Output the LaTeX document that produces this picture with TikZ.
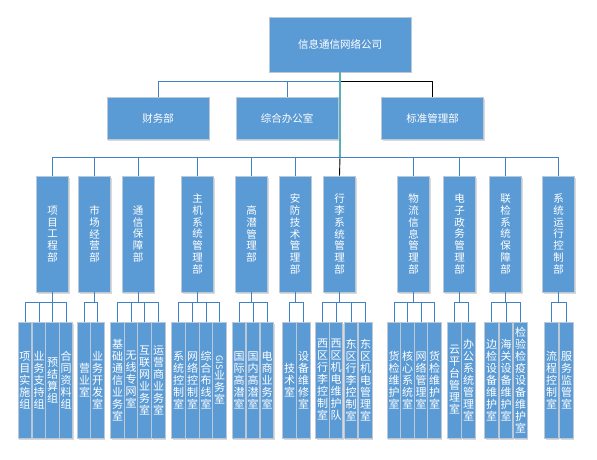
\documentclass[tikz,border=0pt]{standalone}
\usepackage{fontspec}
\usepackage{graphicx}
\newfontfamily\cjk{Noto Sans CJK SC}
\usetikzlibrary{shadows}
\definecolor{boxblue}{HTML}{5B9BD5}
\definecolor{boxedge}{HTML}{BCC8D6}
\definecolor{connblue}{HTML}{3F82C6}
\definecolor{trunkteal}{HTML}{5AAFB8}
\begin{document}
\begin{tikzpicture}[x=1pt,y=-1pt,
  box/.style={fill=boxblue, draw=boxedge, line width=0.9pt, text=white, inner sep=0pt, align=center,
    drop shadow={shadow xshift=1pt, shadow yshift=-1.5pt, opacity=0.15, fill=black}},
  l1/.style={box, minimum width=142pt, minimum height=55pt, font=\cjk\fontsize{10.5}{12}\selectfont},
  l2/.style={box, minimum width=102pt, minimum height=42pt, font=\cjk\fontsize{10.5}{12}\selectfont},
  l3/.style={box, minimum width=32pt, minimum height=116pt, font=\cjk\fontsize{10.5}{11.7}\selectfont},
  l4/.style={box, minimum width=13.5pt, minimum height=116pt, font=\cjk\fontsize{11}{12}\selectfont},
  conn/.style={draw=connblue, line width=0.9pt},
  connk/.style={draw=black, line width=0.9pt},
  trunk/.style={draw=trunkteal, line width=1.2pt}]
\useasboundingbox (0,0) rectangle (597,460);

% level 1 and 2
\node[l1] (top) at (340,44.5) {信息通信网络公司};
\node[l2] (cw) at (158,118) {财务部};
\node[l2] (zh) at (287,118) {综合办公室};
\node[l2] (bz) at (432.5,118) {标准管理部};

% level 3
\node[l3] (p1) at (52.5,234) {项\\目\\工\\程\\部};
\node[l3] (p2) at (94.5,234) {市\\场\\经\\营\\部};
\node[l3] (p3) at (138,234) {通\\信\\保\\障\\部};
\node[l3] (p4) at (197.5,234) {主\\机\\系\\统\\管\\理\\部};
\node[l3] (p5) at (251.5,234) {高\\潜\\管\\理\\部};
\node[l3] (p6) at (295,234) {安\\防\\技\\术\\管\\理\\部};
\node[l3] (p7) at (339.5,234) {行\\李\\系\\统\\管\\理\\部};
\node[l3] (p8) at (413.5,234) {物\\流\\信\\息\\管\\理\\部};
\node[l3] (p9) at (459.5,234) {电\\子\\政\\务\\管\\理\\部};
\node[l3] (p10) at (505.5,234) {联\\检\\系\\统\\保\\障\\部};
\node[l3] (p11) at (558.5,234) {系\\统\\运\\行\\控\\制\\部};

% level 4
\node[l4] (c1a) at (25,380) {项\\目\\实\\施\\组};
\node[l4] (c1b) at (39,380) {业\\务\\支\\持\\组};
\node[l4] (c1c) at (52.5,380) {预\\结\\算\\组};
\node[l4] (c1d) at (66,380) {合\\同\\资\\料\\组};
\node[l4] (c2a) at (84.5,380) {营\\业\\室};
\node[l4] (c2b) at (97.5,380) {业\\务\\开\\发\\室};
\node[l4] (c3a) at (117.5,380) {基\\础\\通\\信\\业\\务\\室};
\node[l4] (c3b) at (131,380) {无\\线\\专\\网\\室};
\node[l4] (c3c) at (144.5,380) {互\\联\\网\\业\\务\\室};
\node[l4] (c3d) at (158.5,380) {运\\营\\商\\业\\务\\室};
\node[l4] (c4a) at (178.5,380) {系\\统\\控\\制\\室};
\node[l4] (c4b) at (192.5,380) {网\\络\\控\\制\\室};
\node[l4] (c4c) at (206,380) {综\\合\\布\\线\\室};
\node[l4] (c4d) at (219.5,380) {\rotatebox{-90}{\fontsize{9}{9}\selectfont GIS}\\业\\务\\室};
\node[l4] (c5a) at (239,380) {国\\际\\高\\潜\\室};
\node[l4] (c5b) at (253,380) {国\\内\\高\\潜\\室};
\node[l4] (c5c) at (267,380) {电\\商\\业\\务\\室};
\node[l4] (c6a) at (289.5,380) {技\\术\\室};
\node[l4] (c6b) at (303.5,380) {设\\备\\维\\修\\室};
\node[l4] (c7a) at (322.5,380) {西\\区\\行\\李\\控\\制\\室};
\node[l4] (c7b) at (336,380) {西\\区\\机\\电\\维\\护\\队};
\node[l4] (c7c) at (351,380) {东\\区\\行\\李\\控\\制\\室};
\node[l4] (c7d) at (365.5,380) {东\\区\\机\\电\\管\\理\\室};
\node[l4] (c8a) at (394,380) {货\\检\\维\\护\\室};
\node[l4] (c8b) at (407.5,380) {核\\心\\系\\统\\室};
\node[l4] (c8c) at (421,380) {网\\络\\管\\理\\室};
\node[l4] (c8d) at (434.5,380) {货\\检\\维\\护\\室};
\node[l4] (c9a) at (454.5,380) {云\\平\\台\\管\\理\\室};
\node[l4] (c9b) at (468.5,380) {办\\公\\系\\统\\管\\理\\室};
\node[l4] (c10a) at (491.5,380) {边\\检\\设\\备\\维\\护\\室};
\node[l4] (c10b) at (506,380) {海\\关\\设\\备\\维\\护\\室};
\node[l4] (c10c) at (520.5,380) {检\\验\\检\\疫\\设\\备\\维\\护\\室};
\node[l4] (c11a) at (551.5,380) {流\\程\\控\\制\\室};
\node[l4] (c11b) at (566.5,380) {服\\务\\监\\管\\室};

% bus coordinates
\coordinate (b1) at (340,81);
\coordinate (b3) at (340,157);
\coordinate (h4) at (0,302);

% level 1 -> 2
\draw[conn] (cw.north) |- (b1);
\draw[conn] (zh.north) -- (zh.north |- b1);
\draw[connk] (bz.north) |- (b1);

% trunk
\draw[trunk] (top.south) -- (b3);
\draw[connk] (b3) -- (p7.north);

% level 3 bus
\foreach \p in {p1,p2,p3,p4,p5,p6,p8,p9,p10,p11}{
  \draw[conn] (\p.north) |- (b3);
}

% level 3 -> 4
\foreach \p/\cs in {p1/{c1a,c1b,c1c,c1d},p2/{c2a,c2b},p3/{c3a,c3b,c3c,c3d},
    p4/{c4a,c4b,c4c,c4d},p5/{c5a,c5b,c5c},p6/{c6a,c6b},p7/{c7a,c7b,c7c,c7d},
    p8/{c8a,c8b,c8c,c8d},p9/{c9a,c9b},p10/{c10a,c10b,c10c},p11/{c11a,c11b}}{
  \draw[conn] (\p.south) -- (\p.south |- h4);
  \foreach \c in \cs {
    \draw[conn] (\c.north) |- (\p.south |- h4);
  }
}
\end{tikzpicture}
\end{document}
